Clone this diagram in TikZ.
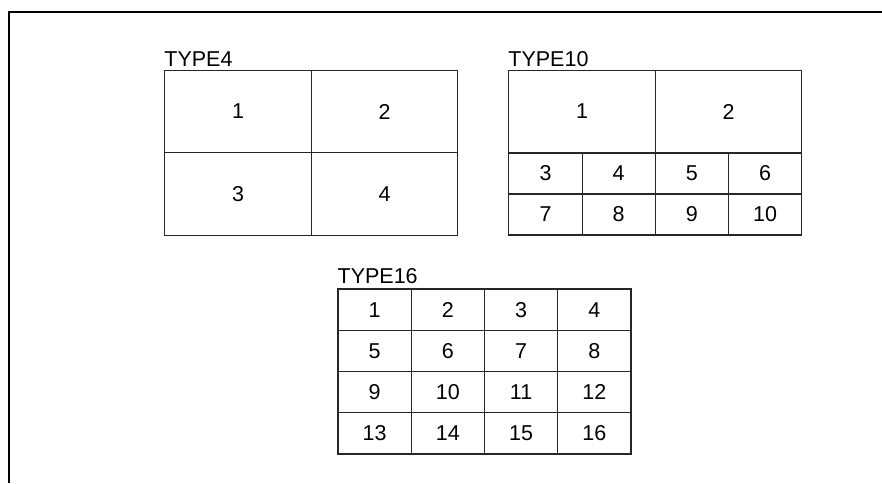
\documentclass[tikz,border=0pt]{standalone}
\usepackage{fontspec}
\setmainfont{Liberation Sans}
\usetikzlibrary{positioning}

\begin{document}
\begin{tikzpicture}[
    x=1pt, y=-1pt,
    cell/.style={rectangle, draw=black!85, line width=1.1pt, inner sep=0pt, font=\fontsize{21.5}{24}\selectfont},
    big/.style={cell, minimum width=146.5pt, minimum height=82.5pt},
    small/.style={cell, minimum width=73.25pt, minimum height=41pt},
    title/.style={anchor=base west, inner sep=0pt, font=\fontsize{21.5}{24}\selectfont},
    frame/.style={line width=2.2pt}
]
    \useasboundingbox (0,0) rectangle (882,483);
    \coordinate (fr-right) at (882,12);
    \coordinate (fr-corner) at (9.2,12);
    \coordinate (fr-bottom) at (9.2,483);
    \draw[frame] (fr-right) -- (fr-corner) -- (fr-bottom);

    % TYPE4
    \foreach \n/\x/\y in {1/238/111.5, 2/384.5/111.5, 3/238/194, 4/384.5/194}
        \node[big] (t4-\n) at (\x,\y) {\n};
    \node[title] (t4title) at ([yshift=3.5pt]t4-1.north west) {TYPE4};

    % TYPE10
    \foreach \n/\x in {1/582, 2/728.5}
        \node[big] (t10-\n) at (\x,111.5) {\n};
    \foreach \n/\c/\r in {3/0/0, 4/1/0, 5/2/0, 6/3/0, 7/0/1, 8/1/1, 9/2/1, 10/3/1}
        \node[small] (t10-\n) at ({545.5+73.2*\c},{173.5+41*\r}) {\n};
    \node[title] (t10title) at ([yshift=3.5pt]t10-1.north west) {TYPE10};

    % TYPE16
    \foreach \r in {0,...,3}
        \foreach \c in {0,...,3} {
            \pgfmathtruncatemacro\n{4*\r+\c+1}
            \node[small, minimum height=41.25pt] (t16-\n) at ({374.6+73.25*\c},{309.6+41.25*\r}) {\n};
        }
    \node[title] (t16title) at ([yshift=4.5pt]t16-1.north west) {TYPE16};
\end{tikzpicture}
\end{document}
